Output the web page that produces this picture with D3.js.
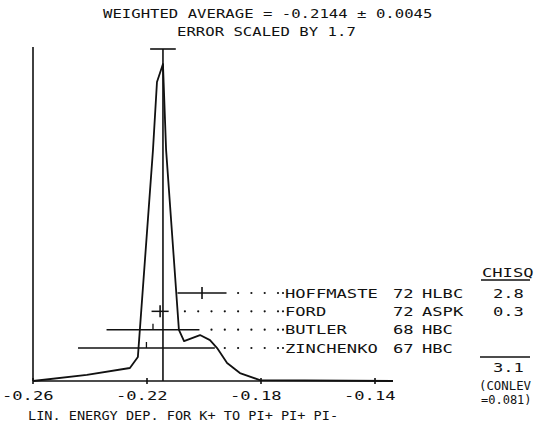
<!DOCTYPE html>
<html><head><meta charset="utf-8">
<script src="https://cdn.jsdelivr.net/npm/d3@7"></script>
<style>
body{margin:0;background:#fff;}
text{font-family:"DejaVu Sans Mono",monospace;fill:#111;}
</style></head>
<body>
<svg id="c" width="535" height="428"></svg>
<script>
// ---- data ----
const titleLines = ["WEIGHTED AVERAGE = -0.2144 \u00b1 0.0045", "ERROR SCALED BY 1.7"];
const xTitle = "LIN. ENERGY DEP. FOR K+ TO PI+ PI+ PI-";
const tickValues = [-0.26, -0.22, -0.18, -0.14];
const tickLabels = ["-0.26", "-0.22", "-0.18", "-0.14"];
const avgValue = -0.2144;
const avgError = 0.0045;
const names = ["HOFFMASTE", "FORD", "BUTLER", "ZINCHENKO"];
const years = ["72", "72", "68", "67"];
const techs = ["HLBC", "ASPK", "HBC", "HBC"];
const values = [-0.2007, -0.2154, -0.2179, -0.2202];
const errors = [0.0086, 0.0030, 0.0163, 0.0240];
const chisq = ["2.8", "0.3", "", ""];
const chisqTotal = "3.1";
const conlev = "0.081";
// ideogram curve (energy value, relative height)
const curveX = [-0.2600, -0.2411, -0.2260, -0.2232, -0.2179, -0.2165, -0.2144, -0.2133, -0.2088, -0.2070, -0.2014, -0.1979, -0.1954, -0.1919, -0.1874, -0.1804, -0.1337];
const curveY = [0.000, 0.019, 0.041, 0.076, 0.729, 0.943, 1.000, 0.729, 0.161, 0.126, 0.145, 0.129, 0.104, 0.057, 0.025, 0.003, 0.000];
const axisEnd = -0.1337;

// ---- drawing ----
const svg = d3.select("#c");
const x = d3.scaleLinear().domain([-0.26, -0.14]).range([33, 375]);
const y = d3.scaleLinear().domain([0, 1]).range([381, 64]);
const row = d3.scalePoint().domain(names).range([293, 348]);
const yAxis = 381;

// plotter-style text: monospace glyphs stretched horizontally
function ptext(parent, tx, ty, str, size, sx, ls) {
  return parent.append("text")
    .attr("transform", `translate(${tx},${ty}) scale(${sx},1)`)
    .style("font-size", size + "px").style("letter-spacing", (ls || 0) + "px")
    .text(str);
}
const LS = 12.5, LSX = 1.37;

// title
ptext(svg, 103, 17.5, titleLines[0], 11.5, 1.36);
ptext(svg, 177, 36, titleLines[1], 11.5, 1.36);

// axes
const ax = svg.append("g").attr("stroke", "#111").attr("stroke-width", 1.6);
ax.append("line").attr("x1", x(-0.26)).attr("x2", x(axisEnd)).attr("y1", yAxis).attr("y2", yAxis);
ax.append("line").attr("x1", x(-0.26)).attr("x2", x(-0.26)).attr("y1", 47).attr("y2", yAxis);
ax.selectAll("line.tk").data(tickValues).join("line").attr("class", "tk")
  .attr("x1", d => x(d)).attr("x2", d => x(d)).attr("y1", yAxis - 3).attr("y2", yAxis + 3);

tickValues.forEach((d, i) => ptext(svg, x(d) - 31, 400, tickLabels[i], LS, LSX));

ptext(svg, 28, 419.5, xTitle, 11.5, 1.18);

// ideogram
const line = d3.line().x(d => x(d[0])).y(d => y(d[1]));
svg.append("path").datum(curveX.map((v, i) => [v, curveY[i]]))
  .attr("d", line).attr("fill", "none").attr("stroke", "#111").attr("stroke-width", 1.8)
  .attr("stroke-linejoin", "round");

// weighted average line
svg.append("line").attr("x1", x(avgValue)).attr("x2", x(avgValue)).attr("y1", 49).attr("y2", yAxis)
  .attr("stroke", "#111").attr("stroke-width", 1.6);
svg.append("line").attr("x1", x(avgValue - avgError)).attr("x2", x(avgValue + avgError))
  .attr("y1", 49).attr("y2", 49).attr("stroke", "#111").attr("stroke-width", 1.6);

// measurements
const g = svg.append("g");
names.forEach((n, i) => {
  const yy = row(n);
  const x0 = x(values[i] - errors[i]), x1 = x(values[i] + errors[i]), xc = x(values[i]);
  g.append("line").attr("x1", x0).attr("x2", x1).attr("y1", yy).attr("y2", yy)
    .attr("stroke", "#111").attr("stroke-width", 1.5);
  const full = chisq[i] !== "";
  g.append("line").attr("x1", xc).attr("x2", xc).attr("y1", yy - 6).attr("y2", full ? yy + 6 : yy)
    .attr("stroke", "#111").attr("stroke-width", full ? 1.6 : 1.3);
  // leader dots
  const dots = [];
  for (let k = 0; k < 20; k++) { const dx = 278 - 13.3 * k; if (dx > x1 + 8) dots.push(dx); }
  dots.push(283);
  g.selectAll(null).data(dots).join("circle").attr("cx", d => d).attr("cy", yy).attr("r", 1.1).attr("fill", "#111");
  ptext(g, 285, yy + 4.6, n, LS, LSX);
  ptext(g, 393, yy + 4.6, years[i], LS, LSX);
  ptext(g, 422, yy + 4.6, techs[i], LS, LSX);
  if (full) ptext(g, 493, yy + 4.6, chisq[i], LS, LSX);
});

// chisq column
ptext(svg, 482, 276.5, "CHISQ", LS, LSX);
svg.append("line").attr("x1", 481).attr("x2", 530).attr("y1", 280).attr("y2", 280).attr("stroke", "#111").attr("stroke-width", 1.3);
svg.append("line").attr("x1", 480).attr("x2", 530).attr("y1", 357).attr("y2", 357).attr("stroke", "#111").attr("stroke-width", 1.3);
ptext(svg, 493, 371.5, chisqTotal, LS, LSX);
ptext(svg, 479, 389.5, "(CONLEV", 12, 1.03);
ptext(svg, 481, 403.5, "=" + conlev + ")", 12, 1.0);
</script>
</body></html>
